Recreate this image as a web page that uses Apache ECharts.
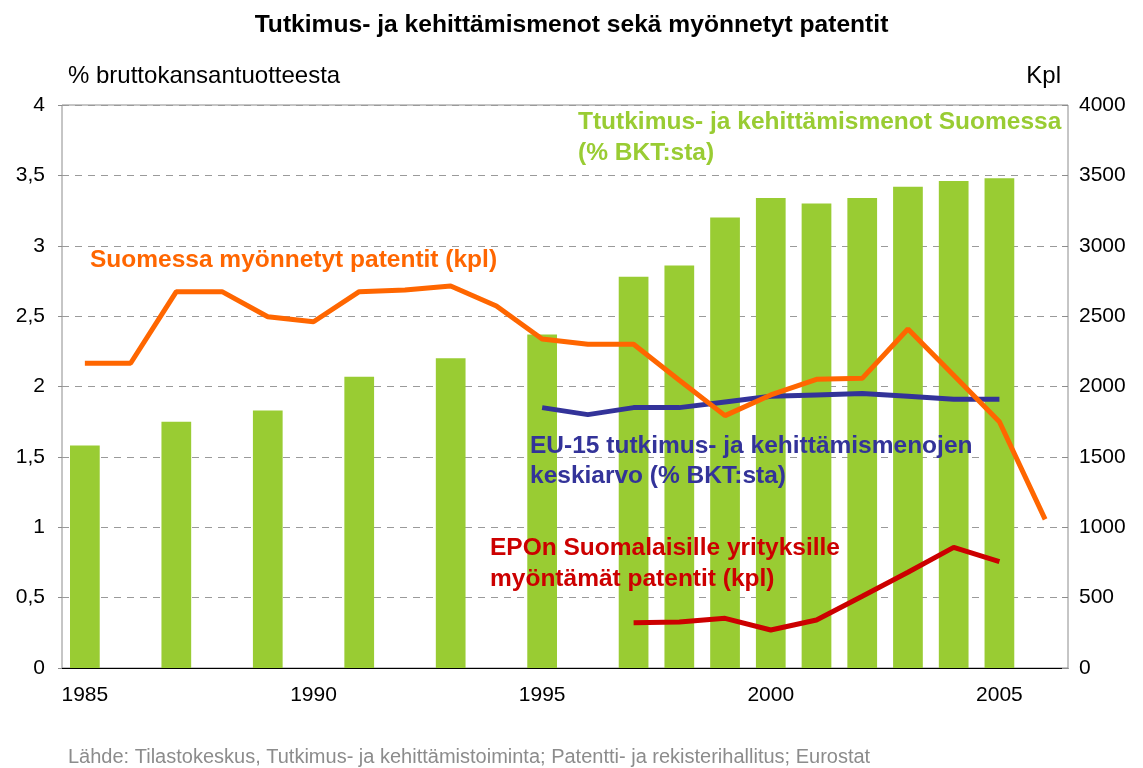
<!DOCTYPE html>
<html>
<head>
<meta charset="utf-8">
<script src="https://cdn.jsdelivr.net/npm/echarts@6/dist/echarts.min.js"></script>
<style>
  html, body { margin: 0; padding: 0; background: #fff; }
  #chart { width: 1143px; height: 768px; }
</style>
</head>
<body>
<div id="chart"></div>
<script>
var years = ['1985','1986','1987','1988','1989','1990','1991','1992','1993','1994','1995',
             '1996','1997','1998','1999','2000','2001','2002','2003','2004','2005','2006'];

// T&K-menot Suomessa, % BKT:sta (pylväät)
var rdFinland = [1.58, null, 1.75, null, 1.83, null, 2.07, null, 2.20, null, 2.37,
                 null, 2.78, 2.86, 3.20, 3.34, 3.30, 3.34, 3.42, 3.46, 3.48, null];
// Suomessa myönnetyt patentit, kpl
var patentsFinland = [2165, 2165, 2674, 2674, 2496, 2460, 2674, 2686, 2714, 2572, 2337,
                      2300, 2300, 2045, 1793, 1940, 2051, 2058, 2408, 2080, 1750, 1056];
// EU-15 keskiarvo, % BKT:sta
var eu15 = [null, null, null, null, null, null, null, null, null, null, 1.85,
            1.80, 1.85, 1.85, 1.89, 1.93, 1.94, 1.95, 1.93, 1.91, 1.91, null];
// EPOn suomalaisille yrityksille myöntämät patentit, kpl
var epoPatents = [null, null, null, null, null, null, null, null, null, null, null,
                  null, 322, 327, 353, 270, 341, 510, 680, 857, 755, null];

var leftTicks = [0, 0.5, 1, 1.5, 2, 2.5, 3, 3.5, 4];
var rightTicks = [0, 500, 1000, 1500, 2000, 2500, 3000, 3500, 4000];

var FONT = '"Liberation Sans", Arial, sans-serif';

var myChart = echarts.init(document.getElementById('chart'));
var option = {
    animation: false,
    textStyle: { fontFamily: FONT },
    title: {
        text: 'Tutkimus- ja kehittämismenot sekä myönnetyt patentit',
        left: 'center',
        top: 8,
        textStyle: { fontSize: 24.6, fontWeight: 'bold', color: '#000', fontFamily: FONT }
    },
    grid: {
        left: 62, right: 75, top: 105, bottom: 100,
        show: true, borderColor: '#8c8c8c', borderWidth: 1
    },
    xAxis: {
        type: 'category',
        data: years,
        boundaryGap: true,
        axisLine: { lineStyle: { color: '#000', width: 1 } },
        axisTick: { interval: 4, length: 6, lineStyle: { color: '#000' } },
        axisLabel: { interval: 4, margin: 17, fontSize: 21, color: '#000', fontFamily: FONT }
    },
    yAxis: [
        {
            type: 'value', min: leftTicks[0], max: leftTicks[leftTicks.length - 1], interval: 0.5,
            axisLine: { show: false },
            axisTick: { show: true, inside: false, length: 4, lineStyle: { color: '#8c8c8c' } },
            splitLine: { lineStyle: { color: '#9a9a9a', type: [7, 6], width: 1 } },
            axisLabel: {
                margin: 17, fontSize: 21, color: '#000', fontFamily: FONT,
                formatter: function (v) { return String(v).replace('.', ','); }
            }
        },
        {
            type: 'value', min: rightTicks[0], max: rightTicks[rightTicks.length - 1], interval: 500,
            axisLine: { show: false },
            axisTick: { show: true, inside: true, length: 6, lineStyle: { color: '#8c8c8c' } },
            splitLine: { show: false },
            axisLabel: {
                margin: 11, fontSize: 21, color: '#000', fontFamily: FONT,
                formatter: function (v) { return String(v); }
            }
        }
    ],
    series: [
        {
            name: 'Ttutkimus- ja kehittämismenot Suomessa',
            type: 'bar',
            yAxisIndex: 0,
            data: rdFinland,
            barWidth: '65%',
            itemStyle: { color: '#99cc33' }
        },
        {
            name: 'EU-15',
            type: 'line',
            yAxisIndex: 0,
            data: eu15,
            symbol: 'none',
            lineStyle: { color: '#333399', width: 5 }
        },
        {
            name: 'Suomessa myönnetyt patentit',
            type: 'line',
            yAxisIndex: 1,
            data: patentsFinland,
            symbol: 'none',
            lineStyle: { color: '#ff6600', width: 5 }
        },
        {
            name: 'EPOn patentit',
            type: 'line',
            yAxisIndex: 1,
            data: epoPatents,
            symbol: 'none',
            lineStyle: { color: '#cc0000', width: 5 }
        }
    ],
    graphic: [
        { type: 'text', z: 100, left: 68, top: 64, style: { text: '% bruttokansantuotteesta', fill: '#000', font: '24px ' + FONT } },
        { type: 'text', z: 100, right: 82, top: 64, style: { text: 'Kpl', fill: '#000', font: '24px ' + FONT } },
        { type: 'text', z: 100, left: 578, top: 107, style: { text: 'Ttutkimus- ja kehittämismenot Suomessa\n(% BKT:sta)', fill: '#99cc33', font: 'bold 24.5px ' + FONT, lineHeight: 31 } },
        { type: 'text', z: 100, left: 90, top: 248, style: { text: 'Suomessa myönnetyt patentit (kpl)', fill: '#ff6600', font: 'bold 24.5px ' + FONT } },
        { type: 'text', z: 100, left: 530, top: 431, style: { text: 'EU-15 tutkimus- ja kehittämismenojen\nkeskiarvo (% BKT:sta)', fill: '#333399', font: 'bold 24.5px ' + FONT, lineHeight: 30 } },
        { type: 'text', z: 100, left: 490, top: 533, style: { text: 'EPOn Suomalaisille yrityksille\nmyöntämät patentit (kpl)', fill: '#cc0000', font: 'bold 24.5px ' + FONT, lineHeight: 31 } },
        { type: 'text', z: 100, left: 68, top: 747, style: { text: 'Lähde: Tilastokeskus, Tutkimus- ja kehittämistoiminta; Patentti- ja rekisterihallitus; Eurostat', fill: '#8c8c8c', font: '20px ' + FONT } }
    ]
};
myChart.setOption(option);
</script>
</body>
</html>
